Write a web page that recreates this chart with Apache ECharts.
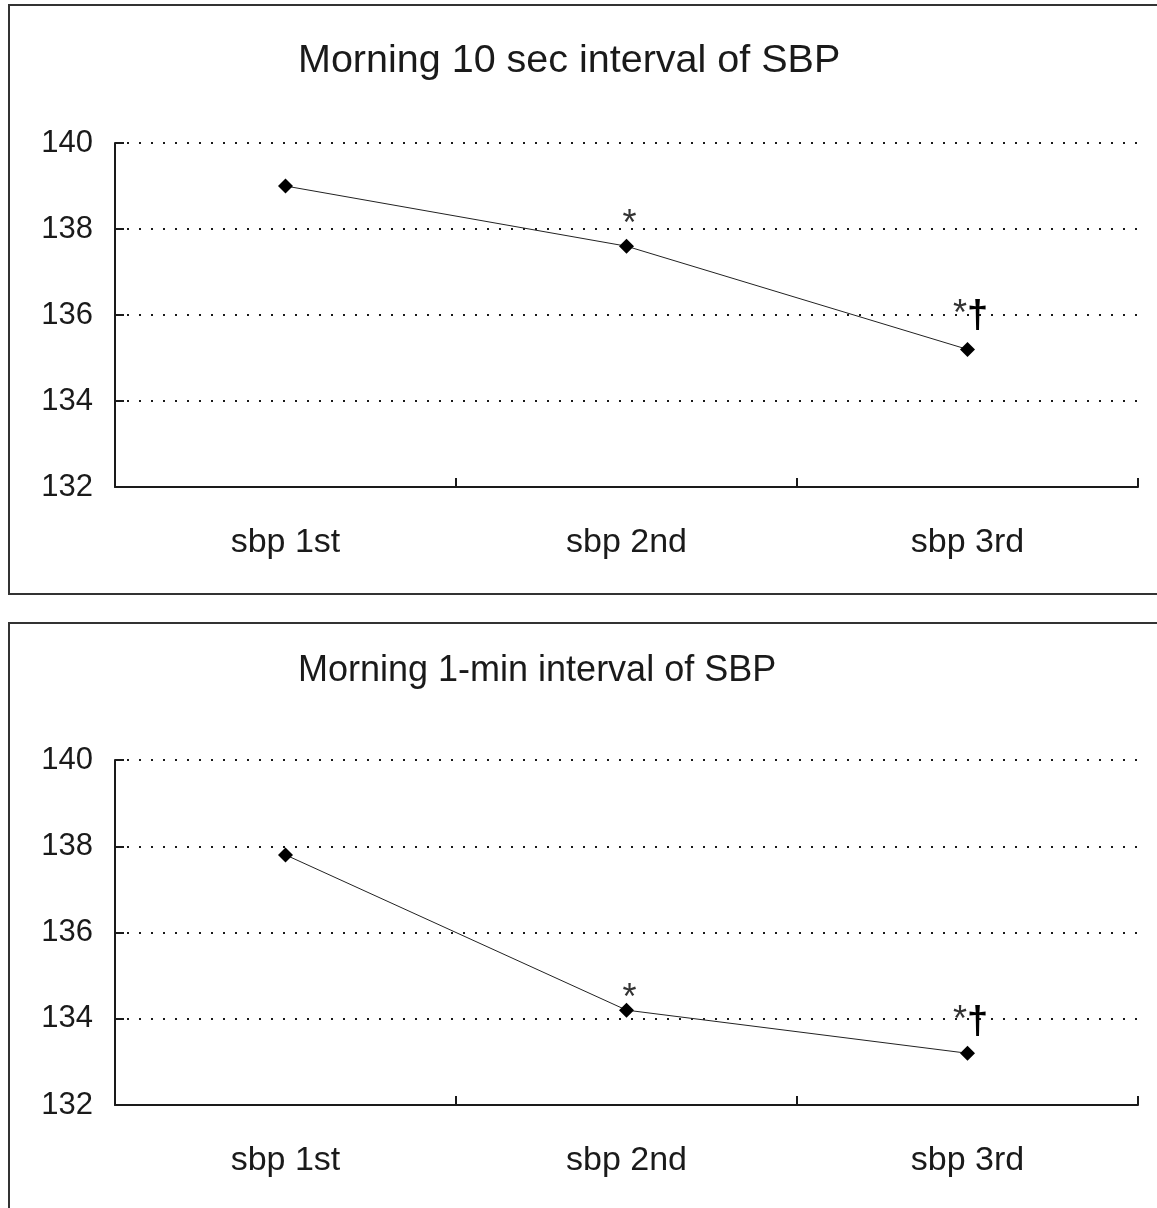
<!DOCTYPE html>
<html>
<head>
<meta charset="utf-8">
<script src="https://cdn.jsdelivr.net/npm/echarts@6/dist/echarts.min.js"></script>
<style>
  html, body { margin: 0; padding: 0; background: #fff; }
  #chart { width: 1157px; height: 1208px; }
</style>
</head>
<body>
<div id="chart"></div>
<script>
// data
const categories = ['sbp 1st', 'sbp 2nd', 'sbp 3rd']
const sbp10sec = [139.0, 137.6, 135.2]
const sbp1min = [137.8, 134.2, 133.2]
const marks = ['', '*', '*†']
const titles = ['Morning 10 sec interval of SBP', 'Morning 1-min interval of SBP']
const yMin = 132
const yMax = 140
const yStep = 2

const FONT = '"Liberation Sans", Arial, sans-serif'
const INK = '#1a1a1a'

const myChart = echarts.init(document.getElementById('chart'))

//axes
const makeX = (gridIndex) => ({
    type: 'category',
    gridIndex: gridIndex,
    data: categories,
    boundaryGap: true,
    axisLine: { show: true, lineStyle: { color: INK, width: 2 } },
    axisTick: { show: true, inside: true, length: 9, lineStyle: { color: INK, width: 2 } },
    axisLabel: { color: INK, fontSize: 34, fontFamily: FONT, margin: 39 },
    splitLine: { show: false }
})
const makeY = (gridIndex) => ({
    type: 'value',
    gridIndex: gridIndex,
    min: yMin,
    max: yMax,
    interval: yStep,
    axisLine: { show: true, lineStyle: { color: INK, width: 2 } },
    axisTick: { show: true, inside: true, length: 9, lineStyle: { color: INK, width: 2 } },
    axisLabel: { color: INK, fontSize: 31, fontFamily: FONT, margin: 22 },
    splitLine: { show: true, lineStyle: { color: INK, width: 2.2, type: [2, 10] } }
})
// star label sits a bit lower in the second panel
const makeSeries = (idx, data, starDist, daggerDist) => ({
    type: 'line',
    xAxisIndex: idx,
    yAxisIndex: idx,
    data: data.map((v, i) => ({
        value: v,
        label: { distance: marks[i].length === 1 ? starDist : daggerDist }
    })),
    symbol: 'diamond',
    symbolSize: 15,
    lineStyle: { color: '#222', width: 1 },
    itemStyle: { color: '#000' },
    label: {
        show: true,
        position: 'top',
        offset: [3, 0],
        formatter: (p) => {
            const m = marks[p.dataIndex]
            if (!m) return ''
            if (m.length === 1) return '{a|*}'
            return '{a|*}{b|†}'
        },
        rich: {
            a: { fontSize: 36, color: '#333', fontFamily: FONT, verticalAlign: 'top', lineHeight: 30 },
            b: { fontSize: 38, fontWeight: 'bold', color: '#000', fontFamily: FONT, lineHeight: 40 }
        }
    }
})

myChart.setOption({
    animation: false,
    backgroundColor: '#fff',
    title: [
        { text: titles[0], left: 293, top: 36, textStyle: { color: INK, fontSize: 39.5, fontWeight: 'normal', fontFamily: FONT } },
        { text: titles[1], left: 293, top: 648, textStyle: { color: INK, fontSize: 36, fontWeight: 'normal', fontFamily: FONT } }
    ],
    graphic: [
        { type: 'rect', shape: { x: 9, y: 5, width: 1160, height: 589 }, style: { fill: 'none', stroke: '#333', lineWidth: 2 } },
        { type: 'rect', shape: { x: 9, y: 623, width: 1160, height: 600 }, style: { fill: 'none', stroke: '#333', lineWidth: 2 } }
    ],
    grid: [
        { left: 115, top: 143, width: 1023, height: 344 },
        { left: 115, top: 760, width: 1023, height: 345 }
    ],
    xAxis: [makeX(0), makeX(1)],
    yAxis: [makeY(0), makeY(1)],
    series: [makeSeries(0, sbp10sec, 2, 5), makeSeries(1, sbp1min, -8, 3)]
})
</script>
</body>
</html>
